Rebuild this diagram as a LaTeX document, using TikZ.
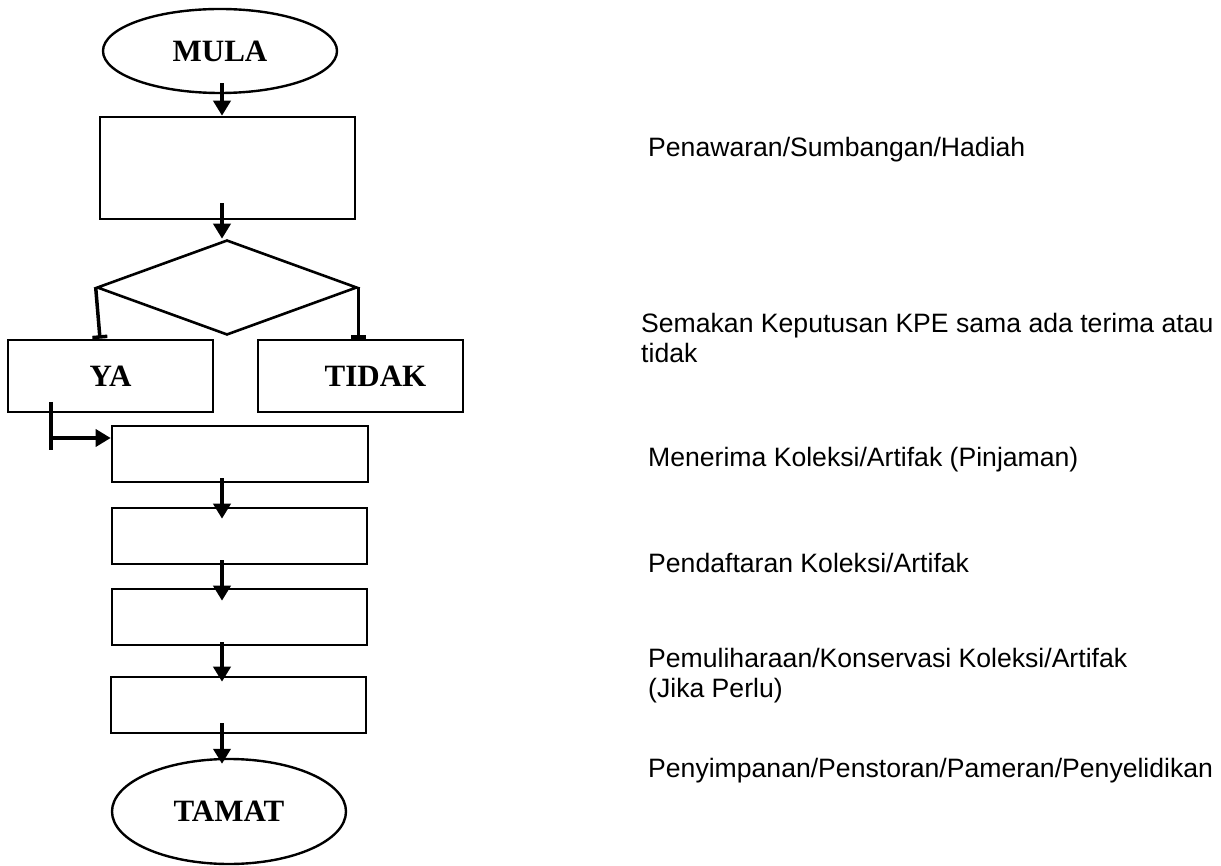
\documentclass[tikz,border=0pt]{standalone}
\usepackage{fontspec}
\setmainfont{Liberation Serif}
\newfontfamily\notefont{Liberation Sans}
\usetikzlibrary{shapes.geometric,arrows.meta}

\begin{document}
\begin{tikzpicture}[x=1pt,y=-1pt,
  box/.style={draw,line width=2.6pt,rectangle,inner sep=0,
    font=\fontsize{31}{36}\selectfont\bfseries},
  term/.style={draw,line width=2.4pt,ellipse,inner sep=0,
    font=\fontsize{31}{36}\selectfont\bfseries},
  decision/.style={draw,line width=2.6pt,diamond,inner sep=0},
  arr/.style={line width=4pt,-{Triangle[width=17pt,length=15pt]}},
  branch/.style={line width=3.5pt,-{Bar[width=15pt]}},
  link/.style={line width=3.5pt},
  note/.style={anchor=west,inner sep=0,align=left,
    font=\notefont\fontsize{26.6}{30}\selectfont}]

\useasboundingbox (0,0) rectangle (1221,866);

% flow column
\node[term, minimum width=234pt, minimum height=84pt] (mula) at (220,51) {MULA};
\node[box, minimum width=255pt, minimum height=102pt] (b1) at (227.5,168) {};
\node[decision, minimum width=260pt, minimum height=95pt] (dia) at (227,287.5) {};
\node[box, minimum width=205pt, minimum height=72pt] (ya) at (110.5,376) {YA};
\node[box, minimum width=205pt, minimum height=72pt] (tidak) at (360.5,376) {\hspace*{30pt}TIDAK};
\node[box, minimum width=256pt, minimum height=56pt] (b3) at (240,454) {};
\node[box, minimum width=255pt, minimum height=56pt] (b4) at (239.5,536) {};
\node[box, minimum width=255pt, minimum height=56pt] (b5) at (239.5,617) {};
\node[box, minimum width=255pt, minimum height=56pt] (b6) at (238.5,705) {};
\node[term, minimum width=234pt, minimum height=105pt] (tamat) at (229,811.5) {TAMAT};

% axis of the main arrows
\coordinate (ax) at (222,0);

\draw[arr] ([yshift=11pt]mula.south -| ax) -- (b1.north -| ax);
\draw[arr] ([yshift=17pt]b1.south -| ax) -- (dia.north -| ax);
\draw[arr] ([yshift=5pt]b3.south -| ax) -- ([yshift=-12pt]b4.north -| ax);
\draw[arr] ([yshift=5pt]b4.south -| ax) -- ([yshift=-13pt]b5.north -| ax);
\draw[arr] ([yshift=4pt]b5.south -| ax) -- ([yshift=-6pt]b6.north -| ax);
\draw[arr] ([yshift=11pt]b6.south -| ax) -- ([yshift=-6pt]tamat.north -| ax);

% decision branches
\draw[branch] (dia.west) -- ([xshift=-10.5pt]ya.north);
\draw[branch] (dia.east) -- (tidak.north -| dia.east);

% YA leads on to the next step
\coordinate (yaTop) at (51,402);
\coordinate (yaEnd) at (51,450);
\coordinate (yaJoin) at (51,438);
\draw[link] (yaTop) -- (yaEnd);
\draw[arr, line width=3.5pt] (yaJoin) -- (yaJoin -| b3.west);

% step descriptions
\node[note] (n1) at (648,150) {Penawaran/Sumbangan/Hadiah};
\node[note] (n2) at (641,338) {Semakan Keputusan KPE sama ada terima atau\\tidak};
\node[note] (n3) at (648,460) {Menerima Koleksi/Artifak (Pinjaman)};
\node[note] (n4) at (648,563) {Pendaftaran Koleksi/Artifak};
\node[note] (n5) at (648,676) {Pemuliharaan/Konservasi Koleksi/Artifak\\(Jika Perlu)};
\node[note] (n6) at (648,771) {Penyimpanan/Penstoran/Pameran/Penyelidikan};

\end{tikzpicture}
\end{document}
